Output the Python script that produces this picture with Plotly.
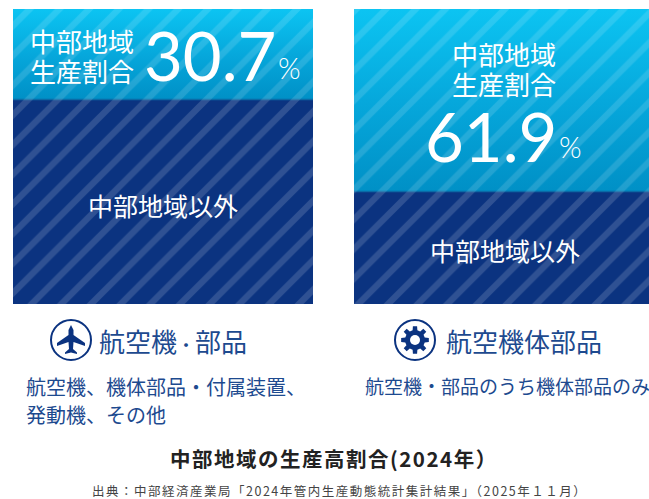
import math
import plotly.graph_objects as go

categories = ["航空機・部品", "航空機体部品"]
chubu_share = [30.7, 61.9]
other_share = [69.3, 38.1]
region_lines = ["中部地域", "生産割合"]
other_label = "中部地域以外"
desc_left = ["航空機、機体部品・付属装置、", "発動機、その他"]
desc_right = "航空機・部品のうち機体部品のみ"
title_text = "中部地域の生産高割合(2024年\uFF09"
source_text = "出典\uFF1A中部経済産業局「2024年管内生産動態統計集計結果」\uFF082025年\uFF11\uFF11月\uFF09"

W, H = 649, 499
JP = "Noto Sans CJK JP"
NAVY = "#0b3380"
TEXTBLUE = "#1d4a8f"
BAR_W = 300 / 341
xs = [0, 1]

def px(x): return x / W
def py(y): return 1 - y / H

fig = go.Figure()

fig.add_bar(x=xs, y=chubu_share, width=BAR_W, marker=dict(color="rgba(0,0,0,0)", line_width=0),
            xaxis="x", yaxis="y", hoverinfo="skip", showlegend=False)
fig.add_bar(x=xs, y=other_share, width=BAR_W, marker=dict(color=NAVY, line_width=0),
            xaxis="x", yaxis="y", hoverinfo="skip", showlegend=False)

for x0, v in zip(xs, chubu_share):
    l, r = x0 - BAR_W / 2, x0 + BAR_W / 2
    fig.add_scatter(x=[l, r, r, l, l], y=[0, 0, v, v, 0], mode="lines", line_width=0, fill="toself",
                    fillgradient=dict(type="vertical",
                                      colorscale=[[0, "#0090c6"], [0.5, "#06a8dc"], [1, "#0cc4f2"]]),
                    xaxis="x", yaxis="y", hoverinfo="skip", showlegend=False)
    fig.add_scatter(x=[l, r], y=[v, v], mode="lines", line=dict(color="#0a6aa6", width=1.5),
                    xaxis="x", yaxis="y", hoverinfo="skip", showlegend=False)

stripe = dict(shape="/", size=21, solidity=0.3, fgcolor="#ffffff", bgcolor="rgba(0,0,0,0)")
fig.add_bar(x=xs, y=chubu_share, width=BAR_W,
            marker=dict(color="rgba(0,0,0,0)", line_width=0, pattern=dict(fgopacity=0.13, **stripe)),
            xaxis="x2", yaxis="y2", hoverinfo="skip", showlegend=False)
fig.add_bar(x=xs, y=other_share, width=BAR_W,
            marker=dict(color="rgba(0,0,0,0)", line_width=0, pattern=dict(fgopacity=0.15, **stripe)),
            xaxis="x2", yaxis="y2", hoverinfo="skip", showlegend=False)

xr = [-163 / 341, (W - 163) / 341]
dom = [py(304), py(9)]
hidden = dict(visible=False, fixedrange=True)
fig.update_layout(
    width=W, height=H, margin=dict(l=0, r=0, t=0, b=0), autosize=False,
    paper_bgcolor="white", plot_bgcolor="white", barmode="stack", showlegend=False,
    xaxis=dict(range=xr, **hidden),
    yaxis=dict(range=[100, 0], domain=dom, **hidden),
    xaxis2=dict(range=xr, overlaying="x", **hidden),
    yaxis2=dict(range=[100, 0], domain=dom, overlaying="y", **hidden),
)

def note(text, x, y, size, color="white", font=JP, weight=None, xanchor="center", align="center"):
    f = dict(family=font, size=size, color=color)
    if weight: f["weight"] = weight
    fig.add_annotation(text=text, x=px(x), y=py(y), xref="paper", yref="paper", showarrow=False,
                       font=f, xanchor=xanchor, yanchor="middle", align=align, borderpad=0, borderwidth=0)

def stacked(lines, size):
    return "<br>".join(f'<span style="font-size:{size}px">{s}</span>' for s in lines)

NUM = dict(font="Lato", weight=400)
# left panel
note(stacked(region_lines, 26), 81.5, 55, 23)
note(f"{chubu_share[0]}", 210, 55, 67, **NUM)
note("%", 289, 67, 29, font="Lato", weight=300)
note(other_label, 163, 205, 25)
# right panel
note(stacked(region_lines, 26), 504, 68, 23)
note(f"{chubu_share[1]}", 491, 136, 67, **NUM)
note("%", 570, 147, 29, font="Lato", weight=300)
note(other_label, 505, 250, 25)

# icons (decoration, in pixel geometry)
def path(points):
    return "M" + "L".join(f"{px(a):.5f},{py(b):.5f}" for a, b in points) + "Z"

for cx in (71, 415):
    fig.add_shape(type="circle", xref="paper", yref="paper",
                  x0=px(cx - 20), x1=px(cx + 20), y0=py(360), y1=py(320),
                  line=dict(color=NAVY, width=2), fillcolor="white")
plane = [(0, -15), (2.5, -10), (2.5, -5), (14, 3), (14, 6), (2.5, 2), (2, 9), (6, 12.5), (6, 14), (0, 12.5),
         (-6, 14), (-6, 12.5), (-2, 9), (-2.5, 2), (-14, 6), (-14, 3), (-2.5, -5), (-2.5, -10)]
fig.add_shape(type="path", xref="paper", yref="paper", line_width=0, fillcolor=NAVY,
              path=path([(71 + a, 340 + b) for a, b in plane]))
gear = []
teeth = 8
for i in range(teeth):
    t = 2 * math.pi * i / teeth
    for d, rad in ((-0.24, 10), (-0.15, 14), (0.15, 14), (0.24, 10)):
        gear.append((415 + rad * math.cos(t + d), 340 + rad * math.sin(t + d)))
fig.add_shape(type="path", xref="paper", yref="paper", line_width=0, fillcolor=NAVY, path=path(gear))
fig.add_shape(type="circle", xref="paper", yref="paper", x0=px(410), x1=px(420), y0=py(345), y1=py(335),
              line_width=0, fillcolor="white")

# headings
head = categories[0].replace("・", '<span style="font-size:18px">・</span>')
note(head, 173, 340, 26, color=TEXTBLUE)
note(categories[1], 524, 340, 26, color=TEXTBLUE)
note(desc_left[0], 26, 386, 20, color=TEXTBLUE, xanchor="left")
note(desc_left[1], 26, 414, 20, color=TEXTBLUE, xanchor="left")
note(desc_right, 507, 385, 19, color=TEXTBLUE)

note(f'<span style="letter-spacing:1.5px"><b>{title_text}</b></span>', 334, 458, 20.5, color="#222222")
note(f'<span style="letter-spacing:1.5px">{source_text}</span>', 339, 490, 12.5, color="#444444")

fig.write_html("out.html", config=dict(displayModeBar=False),
               post_script="document.body.style.margin='0';document.body.style.overflow='hidden';")
